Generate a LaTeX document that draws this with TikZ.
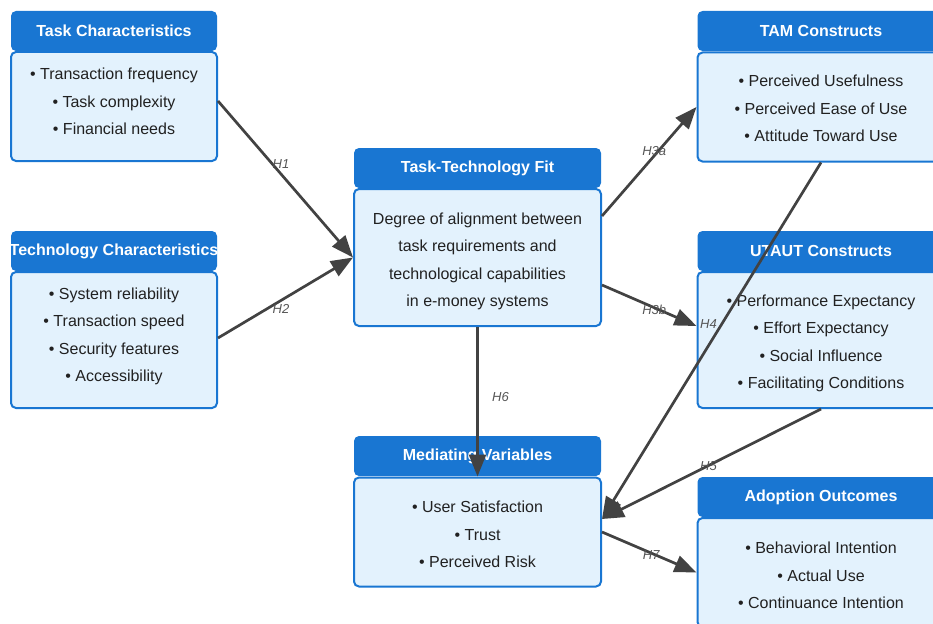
\documentclass[tikz,border=0pt]{standalone}
\usepackage{fontspec}
\setmainfont{Liberation Sans}
\usetikzlibrary{arrows.meta}

\definecolor{hdblue}{HTML}{1976D2}
\definecolor{bdfill}{HTML}{E3F2FD}
\definecolor{arrgray}{HTML}{424242}
\definecolor{lblgray}{HTML}{555555}
\definecolor{txtdark}{HTML}{212121}

\newcommand{\wide}[1]{\makebox[0pt]{#1}}

\begin{document}
\begin{tikzpicture}[>={Triangle[length=22pt,width=17pt]},x=1pt,y=-1pt,
    head/.style={rectangle,rounded corners=5pt,fill=hdblue,text=white,
      font=\bfseries\fontsize{16}{19}\selectfont,minimum height=40pt,inner sep=0pt},
    body/.style={rectangle,rounded corners=5pt,draw=hdblue,line width=2pt,fill=bdfill,
      text=txtdark,font=\fontsize{16}{27.5}\selectfont,align=center,inner sep=0pt,
      text depth=0pt},
    hyp/.style={->,color=arrgray,every edge/.append style={line width=2.7pt}},
    hlab/.style={font=\itshape\fontsize{13}{15}\selectfont,text=lblgray}]
      \clip (0,0) rectangle (933,623);

      % left column
      \node[head,minimum width=206pt] (taskH) at (114,31) {Task Characteristics};
      \node[body,minimum width=206pt,minimum height=109pt,text height=56pt] (taskB) at (114,106.5)
        {\textbullet\ Transaction frequency\\ \textbullet\ Task complexity\\ \textbullet\ Financial needs};

      \node[head,minimum width=206pt] (techH) at (114,251) {\wide{Technology Characteristics}};
      \node[body,minimum width=206pt,minimum height=136pt,text height=83pt] (techB) at (114,340)
        {\textbullet\ System reliability\\ \textbullet\ Transaction speed\\
         \textbullet\ Security features\\ \textbullet\ Accessibility};

      % middle column
      \node[head,minimum width=247pt] (ttfH) at (477.5,168) {Task-Technology Fit};
      \node[body,minimum width=247pt,minimum height=137pt,text height=98pt] (ttfB) at (477.5,257.5)
        {Degree of alignment between\\ task requirements and\\
         technological capabilities\\ in e-money systems};

      \node[head,minimum width=247pt] (medH) at (477.5,456) {Mediating Variables};
      \node[body,minimum width=247pt,minimum height=109pt,text height=71pt] (medB) at (477.5,532)
        {\textbullet\ User Satisfaction\\ \textbullet\ Trust\\ \textbullet\ Perceived Risk};

      % right column
      \node[head,minimum width=247pt] (tamH) at (821,31) {TAM Constructs};
      \node[body,minimum width=247pt,minimum height=109pt,text height=69pt] (tamB) at (821,107)
        {\textbullet\ Perceived Usefulness\\ \textbullet\ Perceived Ease of Use\\
         \textbullet\ Attitude Toward Use};

      \node[head,minimum width=247pt] (utautH) at (821,251) {UTAUT Constructs};
      \node[body,minimum width=247pt,minimum height=136pt,text height=97pt] (utautB) at (821,340)
        {\textbullet\ Performance Expectancy\\ \textbullet\ Effort Expectancy\\
         \textbullet\ Social Influence\\ \textbullet\ Facilitating Conditions};

      \node[head,minimum width=247pt] (adoptH) at (821,497) {Adoption Outcomes};
      \node[body,minimum width=247pt,minimum height=109pt,text height=72pt] (adoptB) at (821,572.5)
        {\textbullet\ Behavioral Intention\\ \textbullet\ Actual Use\\
         \textbullet\ Continuance Intention};

      \path[hyp]
      ([yshift=5.5pt]taskB.east) edge node[hlab,xshift=-4.5pt,yshift=15pt] {H1} (ttfB.west)
      ([yshift=2pt]techB.east) edge node[hlab,xshift=-4.5pt,yshift=-11.5pt] {H2} (ttfB.west)

      ([yshift=41.5pt]ttfB.east) edge node[hlab,xshift=5pt,yshift=10pt] {H3a} (tamB.west)
      ([yshift=-27.5pt]ttfB.east) edge node[hlab,xshift=5pt,yshift=-4pt] {H3b} ([yshift=14pt]utautB.west)

      (tamB.south) edge node[hlab,xshift=-3pt,yshift=17pt] {H4} ([yshift=13pt]medB.east)
      (utautB.south) edge node[hlab,xshift=-3pt,yshift=-2.5pt] {H5} ([yshift=13pt]medB.east)

      (ttfB.south) edge node[hlab,xshift=23pt,yshift=5pt] {H6} (medB.north)
      (medB.east) edge node[hlab,xshift=2pt,yshift=-3pt] {H7} (adoptB.west)
      ;
    \end{tikzpicture}
\end{document}
